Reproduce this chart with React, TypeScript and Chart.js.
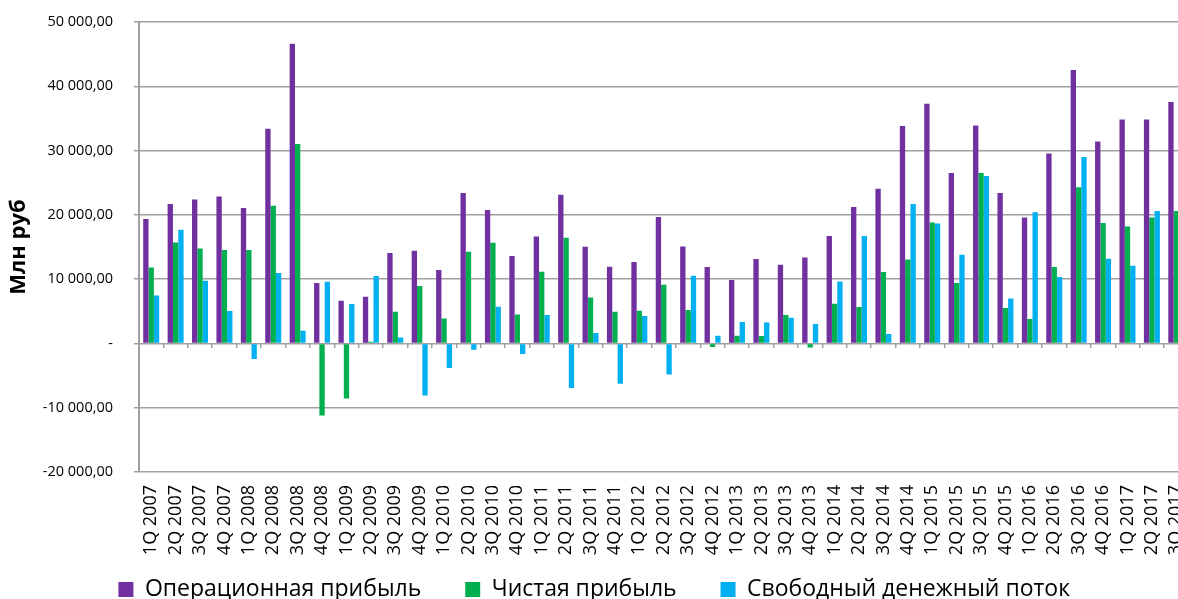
import React, { useEffect, useRef } from "react";
import { Chart, registerables } from "chart.js";

Chart.register(...registerables);

const quarters = [
  "1Q 2007", "2Q 2007", "3Q 2007", "4Q 2007",
  "1Q 2008", "2Q 2008", "3Q 2008", "4Q 2008",
  "1Q 2009", "2Q 2009", "3Q 2009", "4Q 2009",
  "1Q 2010", "2Q 2010", "3Q 2010", "4Q 2010",
  "1Q 2011", "2Q 2011", "3Q 2011", "4Q 2011",
  "1Q 2012", "2Q 2012", "3Q 2012", "4Q 2012",
  "1Q 2013", "2Q 2013", "3Q 2013", "4Q 2013",
  "1Q 2014", "2Q 2014", "3Q 2014", "4Q 2014",
  "1Q 2015", "2Q 2015", "3Q 2015", "4Q 2015",
  "1Q 2016", "2Q 2016", "3Q 2016", "4Q 2016",
  "1Q 2017", "2Q 2017", "3Q 2017",
];

const operatingProfit = [
  19350, 21680, 22400, 22860, 21060, 33390, 46610, 9390, 6640, 7260,
  14060, 14420, 11420, 23390, 20750, 13590, 16640, 23130, 15040, 11930,
  12660, 19660, 15090, 11880, 9860, 13130, 12240, 13380, 16700, 21210,
  24060, 33810, 37280, 26500, 33900, 23390, 19600, 29550, 42520, 31420,
  34840, 34840, 37540,
];

const netProfit = [
  11820, 15710, 14780, 14530, 14530, 21420, 31010, -11200, -8550, 260,
  4930, 8930, 3890, 14260, 15660, 4510, 11150, 16440, 7150, 4930,
  5090, 9130, 5190, -560, 1200, 1150, 4420, -620, 6170, 5660,
  11100, 13060, 18800, 9400, 26500, 5500, 3800, 11880, 24300, 18730,
  18200, 19600, 20590,
];

const freeCashFlow = [
  7470, 17680, 9750, 5040, -2430, 10950, 1980, 9600, 6130, 10480,
  930, -8090, -3830, -980, 5710, -1650, 4420, -6940, 1620, -6270,
  4260, -4820, 10530, 1200, 3330, 3270, 4000, 3020, 9640, 16700,
  1460, 21680, 18650, 13800, 26030, 7000, 20400, 10330, 28990, 13170,
  12080, 20590, 15500,
];

const seriesNames = ["Операционная прибыль", "Чистая прибыль", "Свободный денежный поток"];
const seriesColors = ["#7030A0", "#00B050", "#00B0F0"];

const yMin = -20000;
const yMax = 50000;
const yStep = 10000;
const yTitle = "Млн руб";

const GRID = "#A0A0A0";
const FONT = "'Open Sans', 'Noto Sans', sans-serif";

const formatTick = (v: number): string => {
  if (v === 0) return "-";
  const s = Math.abs(v).toString().replace(/\B(?=(\d{3})+(?!\d))/g, " ");
  return (v < 0 ? "-" : "") + s + ",00";
};

export default function App() {
  const ref = useRef<HTMLCanvasElement | null>(null);

  useEffect(() => {
    if (!ref.current) return;
    const values = [operatingProfit, netProfit, freeCashFlow];
    const defaultLabels = (Chart.defaults.plugins.legend.labels as any).generateLabels;
    const chart = new Chart(ref.current, {
      type: "bar",
      data: {
        labels: quarters,
        datasets: values.map((d, i) => ({
          label: seriesNames[i],
          data: d,
          backgroundColor: seriesColors[i],
          borderWidth: 0,
          barPercentage: 1,
          categoryPercentage: 0.655,
        })),
      },
      options: {
        responsive: true,
        maintainAspectRatio: false,
        animation: false,
        layout: { padding: { top: 22, right: 18.5, left: 0, bottom: 0 } },
        plugins: {
          tooltip: { enabled: false },
          legend: {
            position: "bottom",
            labels: {
              boxWidth: 15,
              boxHeight: 15,
              padding: 20,
              color: "#000",
              font: { family: FONT, size: 23 },
              generateLabels: (c: any) => {
                const items = defaultLabels(c);
                return items.map((it: any, i: number) => ({
                  ...it,
                  text: i < items.length - 1 ? it.text + "    " : it.text,
                }));
              },
            },
          },
        },
        scales: {
          x: {
            type: "category",
            grid: { display: false, drawTicks: false },
            border: { display: false },
            ticks: {
              autoSkip: false,
              minRotation: 90,
              maxRotation: 90,
              padding: 13,
              color: "#000",
              font: { family: FONT, size: 18 },
            },
            afterFit: (s: any) => {
              s.height = 86;
              s.paddingLeft = 0;
              s.paddingRight = 0;
            },
          },
          x2: {
            type: "category",
            axis: "x",
            position: { y: 0 },
            offset: true,
            ticks: { display: false },
            border: { display: false },
            grid: {
              offset: true,
              drawOnChartArea: false,
              drawTicks: true,
              tickLength: 5,
              color: GRID,
              lineWidth: 1.5,
            },
          },
          y: {
            min: yMin,
            max: yMax,
            ticks: {
              stepSize: yStep,
              padding: 21,
              color: "#000",
              font: { family: FONT, size: 14.5 },
              callback: (v: any) => formatTick(Number(v)),
            },
            grid: { color: GRID, lineWidth: 1.5, tickLength: 5, drawTicks: true },
            border: { color: GRID, width: 2 },
            title: {
              display: true,
              text: yTitle,
              color: "#000",
              font: { family: FONT, size: 22, weight: "bold" },
              padding: { top: 6, bottom: 0 },
            },
            afterFit: (s: any) => {
              s.width = 139;
              s.paddingTop = 0;
              s.paddingBottom = 0;
            },
          },
        },
      } as any,
    });
    return () => chart.destroy();
  }, []);

  return (
    <div
      style={{
        position: "fixed",
        left: 0,
        top: 0,
        width: 1178,
        height: 599,
        overflow: "hidden",
        background: "#fff",
      }}
    >
      <div style={{ position: "relative", width: 1207, height: 611 }}>
        <canvas ref={ref} />
      </div>
    </div>
  );
}
